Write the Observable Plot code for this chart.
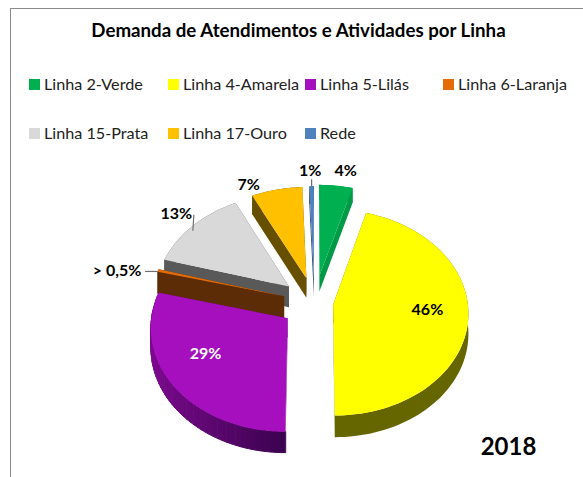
<!DOCTYPE html>
<html><head><meta charset="utf-8">
<script src="https://cdn.jsdelivr.net/npm/d3@7"></script>
<script src="https://cdn.jsdelivr.net/npm/@observablehq/plot@0.6"></script>
<style>
html,body{margin:0;padding:0;background:#fff;width:583px;height:477px;overflow:hidden}
body{position:relative;font-family:Lato,"Open Sans",sans-serif;color:#111}
#frame{position:absolute;left:10px;top:8px;right:0;bottom:0;border-left:1.5px solid #8a8a8a;border-top:1.5px solid #8a8a8a}
#title{position:absolute;left:0;width:583px;top:18px;text-align:center;font-weight:700;font-size:18.7px;line-height:24px;color:#000;padding-left:14px;box-sizing:border-box;white-space:nowrap}
#legend{position:absolute;left:29px;top:71px;display:grid;grid-template-columns:139px 137px 138px 130px;grid-auto-rows:49px;font-size:16.2px;line-height:26px;color:#222}
#legend div{white-space:nowrap;display:flex;align-items:center;height:26px}
#legend i{display:inline-block;width:11px;height:11px;margin-right:4px;flex:none}
#chart{position:absolute;left:0;top:155px}
</style></head>
<body>
<div id="frame"></div>
<div id="title"></div>
<div id="legend"></div>
<div id="chart"></div>
<script>
// Data
const titleText = "Demanda de Atendimentos e Atividades por Linha";
const yearText = "2018";
const lines = ["Linha 2-Verde","Linha 4-Amarela","Linha 5-Lilás","Linha 6-Laranja","Linha 15-Prata","Linha 17-Ouro","Rede"];
const shares = [4.4, 45.6, 29, 0.4, 13.3, 6.7, 0.6];
const shareLabels = ["4%","46%","29%","> 0,5%","13%","7%","1%"];

// Style
const topColors  = ["#00b050","#ffff00","#a60fbe","#e36c09","#d9d9d9","#ffc000","#4f81bd"];
const sideColors = ["#009a46","#666600","#7d0a90","#5c2c06","#595959","#665000","#2f4d71"];
const labelColors = ["#000","#000","#fff","#000","#000","#000","#000"];
const purpleSideDark = "#3c0350";
const explode = [0.27, 0.14, 0.25, 0.235, 0.25, 0.25, 0.25];
const depths = [16, 20, 19, 23, 21, 20, 19];
const labelRadius = [1.18, 0.7, 0.65, 1.35, 1.15, 1.15, 1.2];
const labelNudge = [[7,0],[0,-5],[-9,-7],[2,9],[-3,-3],[-24,8],[-1,1]];
const leaderInset = [null,null,null,[0,1],[0,5],null,[0,0]];
const leaderReach = [null,null,null,[-13,1],[1,-11],null,[0,-7]];
const paintOrder = [6,5,0,4,3,1,2];
const view = {cx:314, cy:302, rx:134.5, ry:102, persp:0.078};

const project = (u,v,down=0) => {
  const s = 1/(1+view.persp*v);
  return [view.cx+view.rx*u*s, view.cy-view.ry*v*s+down*s];
};
const total = d3.sum(shares);
let acc = 0;
const slices = shares.map((share,i)=>{
  const a0 = acc/total*2*Math.PI; acc += share;
  const a1 = acc/total*2*Math.PI, mid=(a0+a1)/2;
  return {i,a0,a1,mid,ox:explode[i]*Math.sin(mid),oy:explode[i]*Math.cos(mid)};
});
const polar = (s,a,r=1)=>[s.ox+r*Math.sin(a), s.oy+r*Math.cos(a)];
const rim = s => {
  const n = Math.max(2,Math.ceil((s.a1-s.a0)/(Math.PI/90)));
  return d3.range(n+1).map(k=>polar(s,s.a0+(s.a1-s.a0)*k/n));
};

let faceId = 0;
const face = (rows,pts,color)=>{ faceId++; for(const [x,y] of pts) rows.push({id:faceId,x,y,color}); };
const top2d = p=>project(p[0],p[1]);
const polygonMark = (rows,strokeWidth)=>Plot.line(rows,{x:"x",y:"y",z:"id",fill:"color",
  stroke:strokeWidth?"color":"none",strokeWidth,curve:"linear-closed"});

const sliceMarks = paintOrder.flatMap(i=>{
  const s = slices[i], arc = rim(s), apex=[s.ox,s.oy];
  const low2d = p=>project(p[0],p[1],depths[i]);
  const walls = [], shaded = [], tops = [];
  face(walls,[top2d(apex),top2d(arc[0]),low2d(arc[0]),low2d(apex)],sideColors[i]);
  face(walls,[top2d(apex),top2d(arc[arc.length-1]),low2d(arc[arc.length-1]),low2d(apex)],sideColors[i]);
  if(i===2){
    // the lilac wall darkens toward the front
    arc.slice(0,-1).forEach((p,k)=>{
      const q = arc[k+1];
      const t = Math.min(1,Math.max(0,p[0]-s.ox+1));
      face(shaded,[top2d(p),top2d(q),low2d(q),low2d(p)],d3.interpolateRgb(purpleSideDark,sideColors[i])(1-t));
    });
  } else {
    face(walls,[...arc.map(top2d),...arc.slice().reverse().map(low2d)],sideColors[i]);
  }
  face(tops,[apex,...arc].map(top2d),topColors[i]);
  return [polygonMark(walls,0),polygonMark(shaded,1),polygonMark(tops,0)];
});

const labelRows = slices.map(s=>{
  const p = polar(s,s.mid,labelRadius[s.i]);
  const [x,y] = project(p[0],p[1]);
  return {x:x+labelNudge[s.i][0], y:y+labelNudge[s.i][1], text:shareLabels[s.i], color:labelColors[s.i]};
});
const leaderRows = slices.filter(s=>leaderReach[s.i]).map(s=>{
  const p = polar(s,s.mid);
  const [x,y] = project(p[0],p[1]);
  const [ix,iy] = leaderInset[s.i];
  return {x1:x+ix,y1:y+iy,x2:x+leaderReach[s.i][0],y2:y+leaderReach[s.i][1]};
});

document.getElementById("title").textContent = titleText;
const legend = document.getElementById("legend");
lines.forEach((name,i)=>{
  const div = document.createElement("div");
  const sw = document.createElement("i");
  sw.style.background = topColors[i];
  div.append(sw, name);
  legend.append(div);
});

const chart = Plot.plot({
  width:583, height:322,
  margin:0, marginTop:0, marginRight:0, marginBottom:0, marginLeft:0,
  style:{background:"transparent",overflow:"visible"},
  x:{axis:null,domain:[0,583],range:[0,583]},
  y:{axis:null,domain:[155,477],range:[0,322]},
  color:{type:"identity"},
  marks:[
    ...sliceMarks,
    Plot.link(leaderRows,{x1:"x1",y1:"y1",x2:"x2",y2:"y2",stroke:"#6f6f6f",strokeWidth:1.2}),
    Plot.text(labelRows,{x:"x",y:"y",text:"text",fill:"color",fontFamily:"Lato",fontWeight:700,fontSize:16}),
    Plot.text([yearText],{x:()=>508,y:()=>447,text:d=>d,fill:"#000",fontFamily:"Lato",fontWeight:700,fontSize:24})
  ]
});
document.getElementById("chart").append(chart);
</script>
</body></html>
